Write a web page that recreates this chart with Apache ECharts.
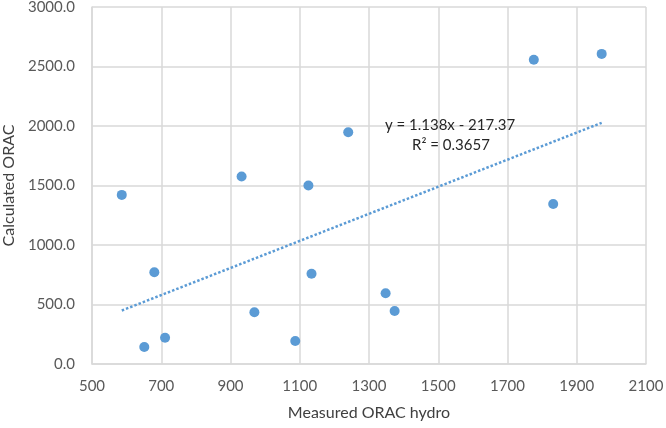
<!DOCTYPE html>
<html><head><meta charset="utf-8">
<script src="https://cdn.jsdelivr.net/npm/echarts@6/dist/echarts.min.js"></script>
<style>html,body{margin:0;padding:0;background:#fff}#c{width:666px;height:428px}</style>
</head><body><div id="c"></div>
<script>
const measured = [586, 651, 680, 711, 932, 969, 1087, 1125, 1134, 1240, 1348, 1374, 1776, 1832, 1972];
const calculated = [1421, 143, 771, 220, 1576, 435, 194, 1500, 759, 1947, 595, 446, 2556, 1344, 2606];
const trendSlope = 1.138;
const trendIntercept = -217.37;
const trendLabel = ['y = 1.138x - 217.37', 'R\u00b2 = 0.3657'];
const xTitle = 'Measured ORAC hydro';
const yTitle = 'Calculated ORAC';

const points = measured.map((x, i) => [x, calculated[i]]);
const xMin = Math.min(...measured), xMax = Math.max(...measured);
const trend = [[xMin, trendSlope * xMin + trendIntercept], [xMax, trendSlope * xMax + trendIntercept]];

const font = 'Lato, "Open Sans", sans-serif';
const chart = echarts.init(document.getElementById('c'));
chart.setOption({
  animation: false,
  grid: { left: 92, right: 20, top: 7, bottom: 64, containLabel: false, outerBoundsMode: 'none' },
  xAxis: {
    type: 'value', min: 500, max: 2100, interval: 200,
    name: xTitle, nameLocation: 'middle', nameGap: 41,
    nameTextStyle: { color: '#404040', fontSize: 16, fontFamily: font },
    axisLine: { show: true, lineStyle: { color: '#d9d9d9', width: 1.5 } },
    axisTick: { show: false },
    axisLabel: { color: '#595959', fontSize: 15, fontFamily: font, margin: 15, formatter: v => String(v) },
    splitLine: { show: true, lineStyle: { color: '#d9d9d9', width: 1.5 } }
  },
  yAxis: {
    type: 'value', min: 0, max: 3000, interval: 500,
    name: yTitle, nameLocation: 'middle', nameGap: 74, nameRotate: 90,
    nameTextStyle: { color: '#404040', fontSize: 16, fontFamily: font },
    axisLine: { show: true, lineStyle: { color: '#d9d9d9', width: 1.5 } },
    axisTick: { show: false },
    axisLabel: { color: '#595959', fontSize: 15, fontFamily: font, margin: 17, formatter: v => v.toFixed(1) },
    splitLine: { show: true, lineStyle: { color: '#d9d9d9', width: 1.5 } }
  },
  graphic: [{
    type: 'text', x: 450, y: 125, z: 100,
    style: { text: trendLabel[0], fill: '#262626', font: '15px ' + font, align: 'center', verticalAlign: 'middle' }
  }, {
    type: 'text', x: 451, y: 145, z: 100,
    style: { text: trendLabel[1], fill: '#262626', font: '15px ' + font, align: 'center', verticalAlign: 'middle' }
  }],
  series: [{
    type: 'line', data: trend, symbol: 'none', silent: true,
    lineStyle: { color: '#5b9bd5', width: 2.5, type: [2.5, 2] }, z: 2
  }, {
    type: 'scatter', data: points, symbolSize: 10,
    itemStyle: { color: '#5b9bd5', opacity: 1 }, z: 3
  }]
});
</script></body></html>
